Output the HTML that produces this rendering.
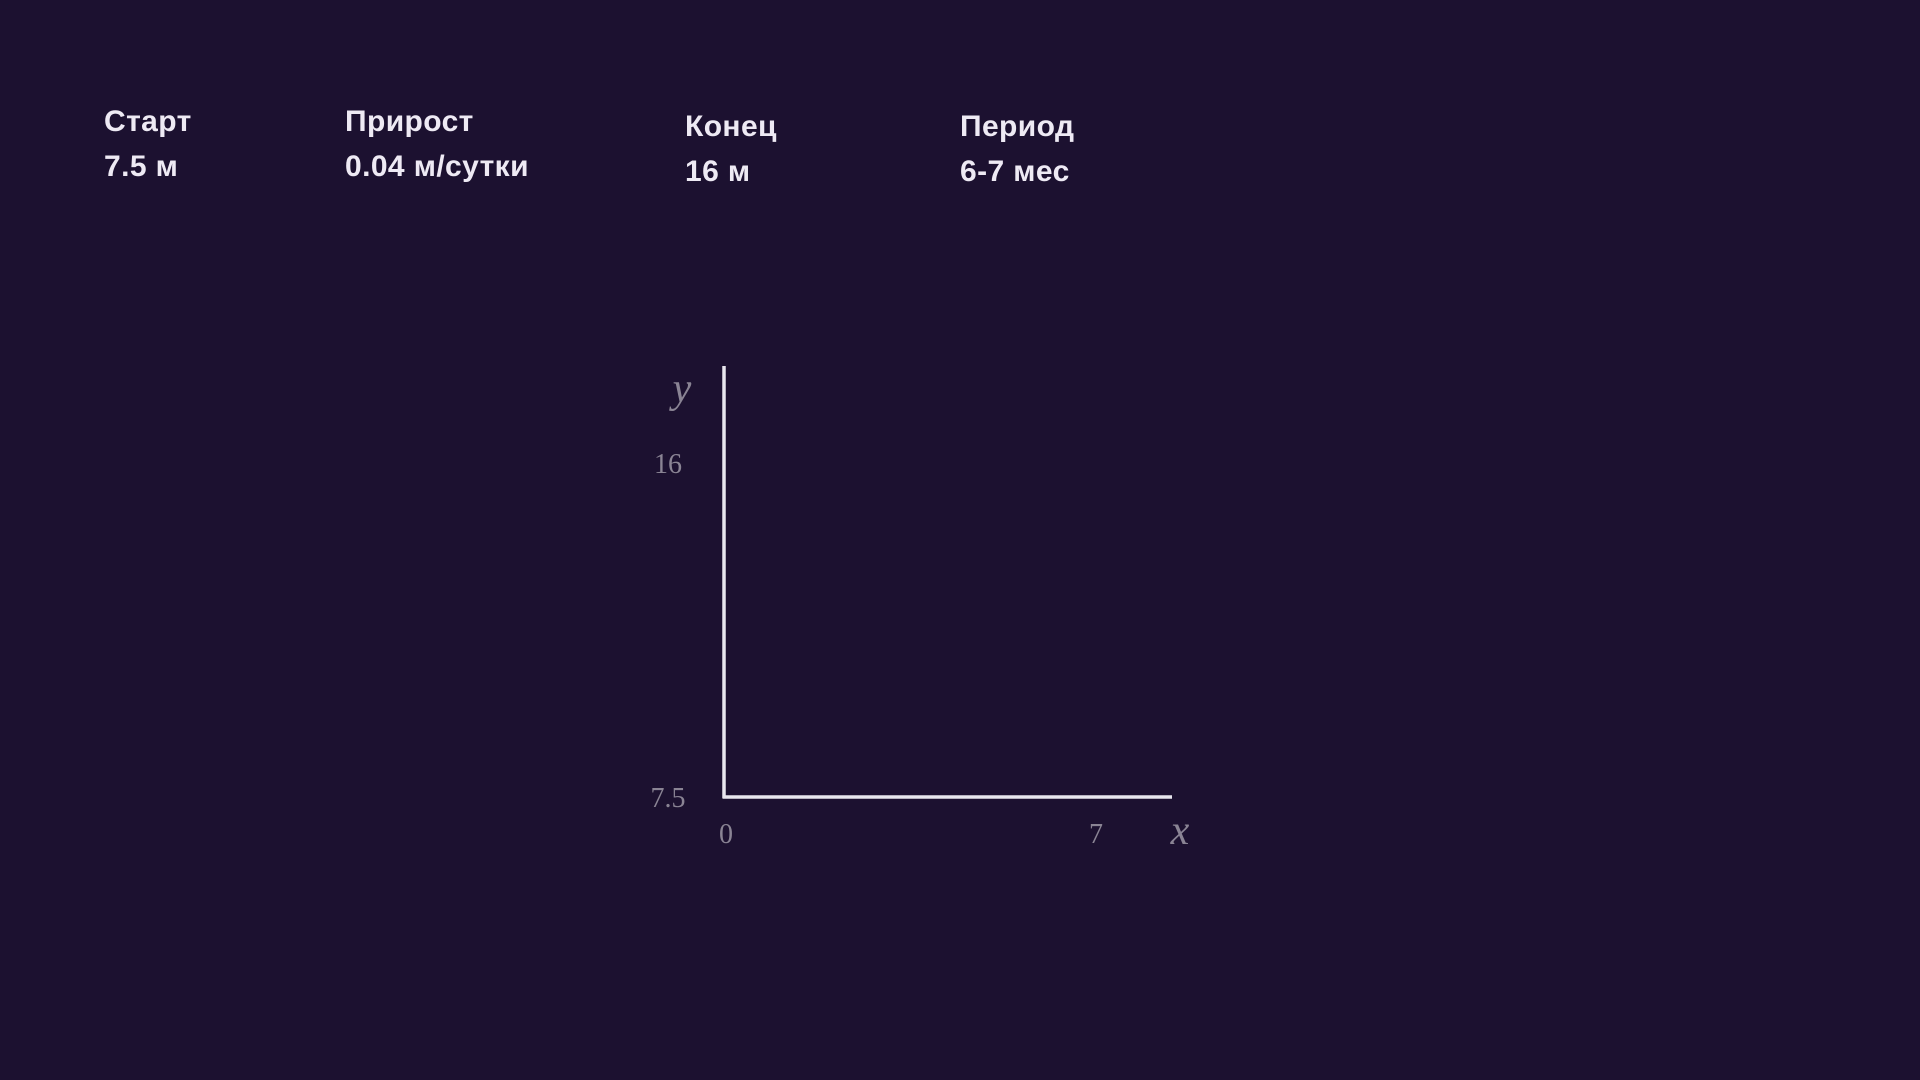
<!DOCTYPE html>
<html>
<head>
<meta charset="utf-8">
<style>
  html,body{margin:0;padding:0;}
  body{width:1920px;height:1080px;background:#1c1130;overflow:hidden;position:relative;
       font-family:"Liberation Sans","Noto Sans CJK SC",sans-serif;}
  .stat{position:absolute;color:#eeeaf4;font-weight:bold;font-size:30px;line-height:45px;letter-spacing:0.4px;}
  svg{position:absolute;left:0;top:0;}
</style>
</head>
<body>
<div class="stat" style="left:104px;top:99px;">Старт<br>7.5 м</div>
<div class="stat" style="left:345px;top:99px;">Прирост<br>0.04 м/сутки</div>
<div class="stat" style="left:685px;top:104px;">Конец<br>16 м</div>
<div class="stat" style="left:960px;top:104px;">Период<br>6-7 мес</div>

<svg id="chart" width="1920" height="1080"></svg>
<script>
const xTicks = [0, 7];
const yTicks = [7.5, 16];
const xTickLabels = ["0", "7"];
const yTickLabels = ["7.5", "16"];

const svg = document.getElementById('chart');
const NS = 'http://www.w3.org/2000/svg';
const ox = 724, oy = 797;
function xs(v){ return ox + 2 + (v - xTicks[0]) * (370 / (xTicks[xTicks.length-1] - xTicks[0])); }
function ys(v){ return oy - (v - yTicks[0]) * (334 / (yTicks[yTicks.length-1] - yTicks[0])); }
function mk(tag, attrs){ const e = document.createElementNS(NS, tag); for (const k in attrs) e.setAttribute(k, attrs[k]); svg.appendChild(e); return e; }

const yAxis = mk('line', {x1:ox, y1:366, x2:ox, y2:oy+1, stroke:'#e8e6ee', 'stroke-width':3.5});


const xAxis = mk('line', {x1:ox-1.5, y1:oy, x2:1172, y2:oy, stroke:'#e8e6ee', 'stroke-width':3.5});



xTicks.forEach((v, i) => {
  const t = mk('text', {x:xs(v), y:843, fill:'#8a8494', 'font-size':28, 'font-family':'Liberation Serif, serif', 'text-anchor':'middle'});
  t.textContent = xTickLabels[i];
  
  
});
yTicks.forEach((v, i) => {
  const t = mk('text', {x:668, y:ys(v) + 10, fill:'#8a8494', 'font-size':28, 'font-family':'Liberation Serif, serif', 'text-anchor':'middle'});
  t.textContent = yTickLabels[i];
  
  
});
const yl = mk('text', {x:682, y:402, fill:'#8a8494', 'font-size':42, 'font-style':'italic', 'font-family':'Liberation Serif, serif', 'text-anchor':'middle'});
yl.textContent = 'y';


const xl = mk('text', {x:1180, y:844, fill:'#8a8494', 'font-size':42, 'font-style':'italic', 'font-family':'Liberation Serif, serif', 'text-anchor':'middle'});
xl.textContent = 'x';


</script>
</body>
</html>
